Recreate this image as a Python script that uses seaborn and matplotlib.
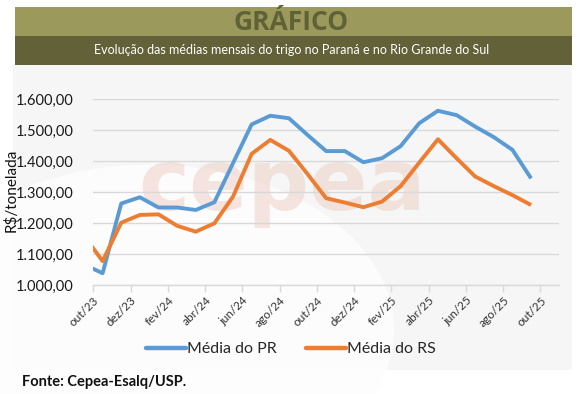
import numpy as np
import pandas as pd
import matplotlib
matplotlib.use("Agg")
import matplotlib.pyplot as plt
import matplotlib.transforms as mtransforms
from matplotlib.patches import Rectangle, Circle
from matplotlib.lines import Line2D
import seaborn as sns

# ---------------- data ----------------
months = ["set/23", "out/23", "nov/23", "dez/23", "jan/24", "fev/24", "mar/24", "abr/24",
          "mai/24", "jun/24", "jul/24", "ago/24", "set/24", "out/24", "nov/24", "dez/24",
          "jan/25", "fev/25", "mar/25", "abr/25", "mai/25", "jun/25", "jul/25", "ago/25",
          "set/25"]
media_pr = [1066, 1038, 1263, 1283, 1250, 1250, 1242, 1267, 1393, 1518, 1546, 1538,
            1484, 1432, 1432, 1396, 1409, 1448, 1522, 1562, 1548, 1511, 1477, 1436, 1344]
media_rs = [1159, 1077, 1201, 1226, 1228, 1191, 1172, 1199, 1285, 1423, 1468, 1433,
            1358, 1280, 1266, 1251, 1269, 1319, 1395, 1470, 1409, 1350, 1319, 1290, 1258]
tick_labels = ["out/23", "dez/23", "fev/24", "abr/24", "jun/24", "ago/24", "out/24",
               "dez/24", "fev/25", "abr/25", "jun/25", "ago/25", "out/25"]
y_ticks = [1000, 1100, 1200, 1300, 1400, 1500, 1600]
series_names = ["Média do PR", "Média do RS"]
colors = ["#5b9bd5", "#ed7d31"]

# position of each monthly point = centre of its month on the category axis
pos = np.arange(len(months)) - 0.5
df = pd.DataFrame({
    "pos": np.concatenate([pos, pos]),
    "valor": media_pr + media_rs,
    "serie": [series_names[0]] * len(months) + [series_names[1]] * len(months),
})

# ---------------- figure ----------------
sns.set_theme(style="white")
plt.rcParams["font.family"] = ["Lato", "DejaVu Sans"]

W, H = 581, 394
fig = plt.figure(figsize=(W / 100, H / 100), dpi=100)
fig.patch.set_facecolor("white")

def fx(x):
    return x / W

def fy(y):
    return 1 - y / H

# light chart background and decorations
fig.patches.append(Rectangle((fx(13), fy(370)), fx(572 - 13), (370 - 65) / H,
                             transform=fig.transFigure, facecolor="#f5f6f5",
                             edgecolor="none", zorder=0))
fig.patches.append(Circle((fx(150), fy(330)), 0.42, transform=fig.transFigure,
                          facecolor="#fdfdfd", edgecolor="none", zorder=0, alpha=0.9))

# banner
fig.patches.append(Rectangle((fx(15), fy(36)), fx(572 - 15), (36 - 7) / H,
                             transform=fig.transFigure, facecolor="#9b9a5c",
                             edgecolor="none", zorder=1))
fig.patches.append(Rectangle((fx(15), fy(65)), fx(572 - 15), (65 - 36) / H,
                             transform=fig.transFigure, facecolor="#626137",
                             edgecolor="none", zorder=1))
fig.text(fx(291), fy(22), "GRÁFICO", ha="center", va="center", fontsize=19,
         fontweight="bold", color="#5f6236", family=["Open Sans", "DejaVu Sans"])
fig.text(fx(292), fy(50), "Evolução das médias mensais do trigo no Paraná e no Rio Grande do Sul",
         ha="center", va="center", fontsize=9.0, color="white")

# watermark
fig.text(fx(282), fy(186), "cepea", ha="center", va="center", fontsize=62,
         fontweight="bold", color="#efd3ca", alpha=0.6, zorder=1,
         family=["DejaVu Sans"])

ax = fig.add_axes([fx(93.3), fy(285), fx(559 - 93.3), (285 - 99) / H])
ax.set_facecolor("none")
ax.set_zorder(2)

sns.lineplot(data=df, x="pos", y="valor", hue="serie", palette=colors,
             hue_order=series_names, ax=ax, linewidth=2.8, legend=False,
             sort=False)
for ln in ax.lines:
    ln.set_solid_joinstyle("round")
    ln.set_solid_capstyle("butt")

ax.set_xlim(0, 25)
ax.set_ylim(1000, 1600)
ax.set_yticks(y_ticks)
ax.set_yticklabels([f"{v:,.2f}".replace(",", "X").replace(".", ",").replace("X", ".")
                    for v in y_ticks], fontsize=10.5, color="#1a1a1a")
ax.set_xticks(np.arange(0, 25, 2))
ax.set_xticklabels(tick_labels, rotation=45, ha="right", rotation_mode="anchor",
                   fontsize=8.5, color="#333333")
shift = mtransforms.ScaledTranslation(11 / 100, -3 / 100, fig.dpi_scale_trans)
for lab in ax.get_xticklabels():
    lab.set_transform(lab.get_transform() + shift)
ax.grid(axis="y", color="#d9d9d9", linewidth=1)
ax.set_axisbelow(True)
for s in ["top", "right", "left"]:
    ax.spines[s].set_visible(False)
ax.spines["bottom"].set_color("#d9d9d9")
ax.spines["bottom"].set_linewidth(1)
ax.tick_params(axis="x", which="both", bottom=True, length=5, width=1,
               color="#d9d9d9", pad=2)
ax.tick_params(axis="y", length=0, pad=14)
ax.set_xlabel("")
ax.set_ylabel("")
fig.text(fx(11), fy(190), "R\\$/tonelada", rotation=90, ha="center", va="center",
         fontsize=11, color="#111111")

handles = [Line2D([0], [0], color=c, lw=3.2) for c in colors]
fig.legend(handles, series_names, loc="center", bbox_to_anchor=(fx(291), fy(349)),
           ncol=2, frameon=False, fontsize=11.5, handlelength=2.5, handletextpad=0.1,
           columnspacing=1.8)

fig.text(fx(22), fy(382), "Fonte: Cepea-Esalq/USP.", ha="left", va="center",
         fontsize=10.5, fontweight="bold", color="#111111")

fig.savefig("out.png", dpi=100)
